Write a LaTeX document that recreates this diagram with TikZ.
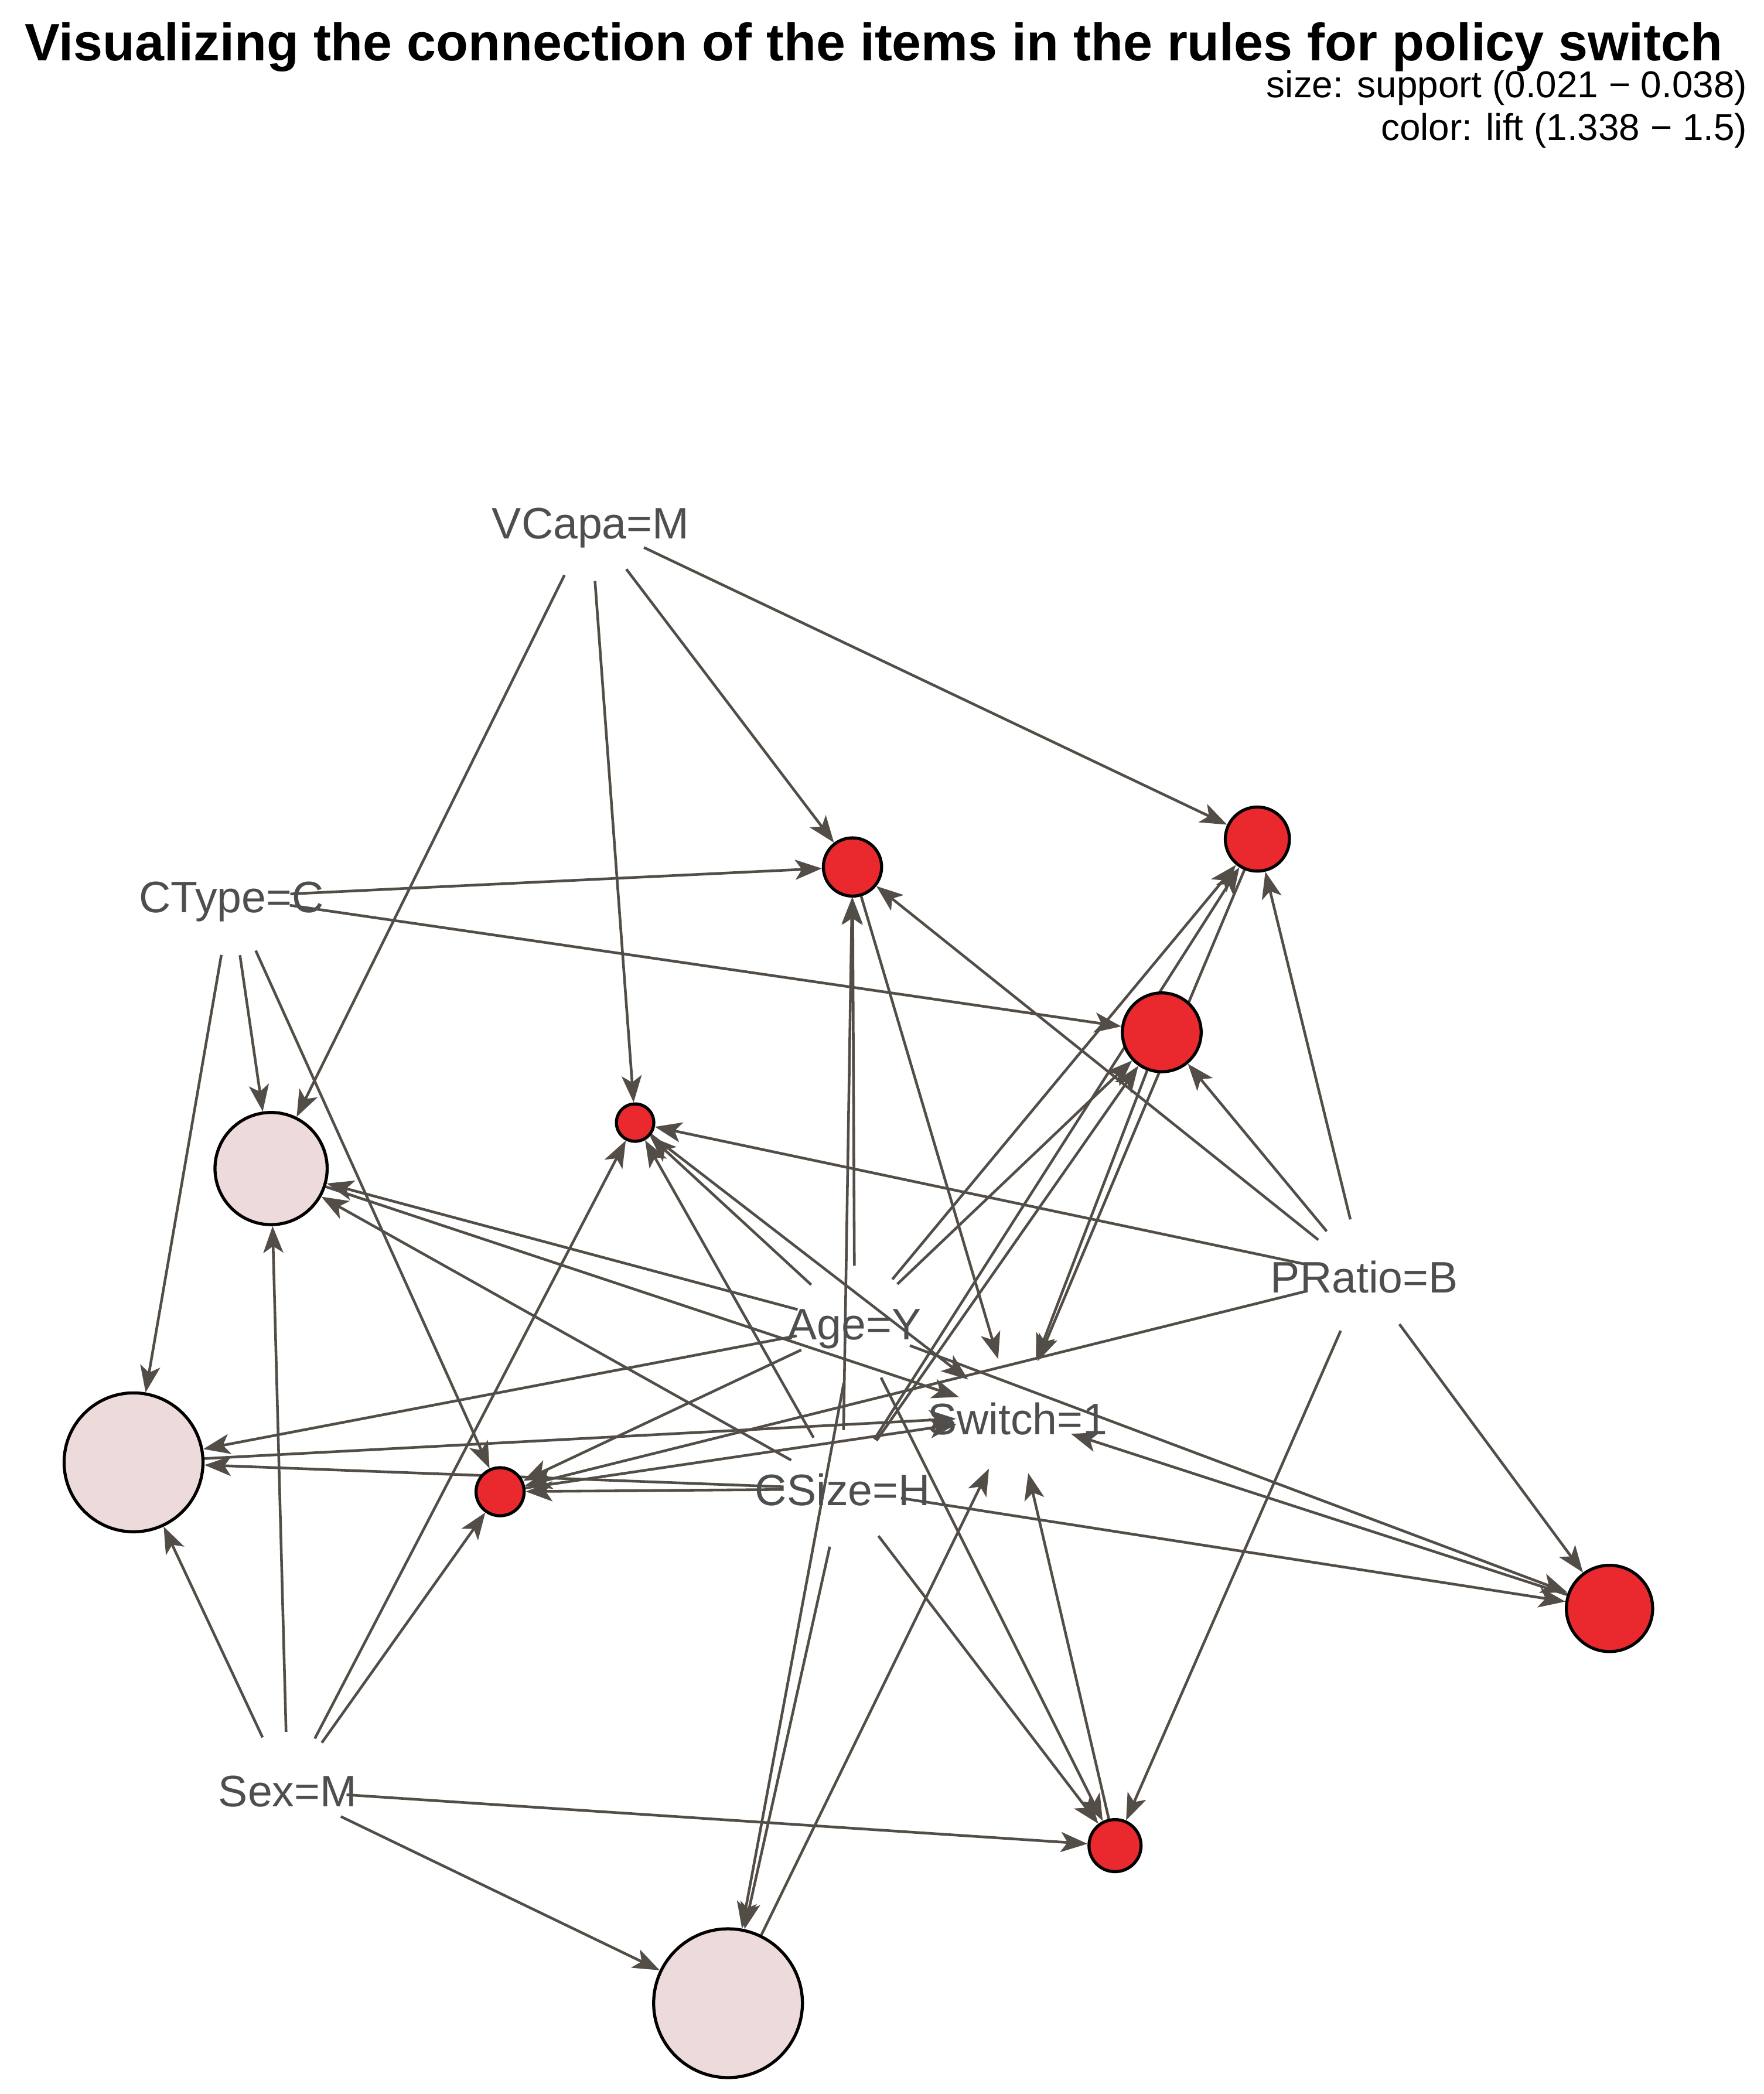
\documentclass[tikz,border=0pt]{standalone}
\usepackage{fontspec}
\setmainfont{Liberation Sans}
\usetikzlibrary{arrows.meta}
\pgfdeclarelayer{back}
\pgfdeclarelayer{bg}
\pgfsetlayers{back,bg,main}
\definecolor{edgec}{RGB}{83,77,71}
\definecolor{lblc}{RGB}{77,79,79}
\definecolor{rulered}{RGB}{234,41,46}
\definecolor{rulepink}{RGB}{237,219,219}
\begin{document}
\begin{tikzpicture}[x=1pt,y=-1pt,
  itemv/.style={circle,minimum size=88pt,inner sep=0pt,draw=none},
  itemlbl/.style={anchor=base,inner sep=0pt,text=lblc,font=\fontsize{33}{38}\selectfont},
  rulev/.style={circle,inner sep=0pt,draw=black,line width=2.3pt,minimum size=#1},
  redrule/.style={rulev=#1,fill=rulered},
  pinkrule/.style={rulev=#1,fill=rulepink},
  edgeln/.style={draw=edgec,line width=2pt,-{Stealth[length=20pt,width=15pt,inset=5pt]}},
]
\begin{pgfonlayer}{back}
\fill[white] (0,0) rectangle (1321,1568);
\end{pgfonlayer}
\useasboundingbox (0,0) rectangle (1321,1568);

% title and legend
\node[anchor=base west,inner sep=0pt,font=\fontsize{39.4}{44}\selectfont\bfseries] (title) at (18.5,45.3) {Visualizing the connection of the items in the rules for policy switch};
\node[anchor=base east,inner sep=0pt,font=\fontsize{28}{32}\selectfont] (leg1) at (1308.5,73) {size: support (0.021 − 0.038)};
\node[anchor=base east,inner sep=0pt,font=\fontsize{28}{32}\selectfont] (leg2) at (1308.5,105) {color: lift (1.338 − 1.5)};

% item vertices (invisible)
\node[itemv] (vcapa) at (442.3,391) {};
\node[itemv] (ctype) at (173.3,671.5) {};
\node[itemv] (age) at (640,992) {};
\node[itemv] (pratio) at (1021.7,956) {};
\node[itemv] (switch) at (760,1060) {};
\node[itemv] (csize) at (631,1115) {};
\node[itemv] (sex) at (215.4,1341) {};

% rule vertices
\node[redrule=43.6pt] (r1) at (638.4,649.2) {};
\node[redrule=48pt] (r2) at (941.6,628.3) {};
\node[redrule=59pt] (r3) at (870,773) {};
\node[redrule=28pt] (r4) at (475.6,840.6) {};
\node[pinkrule=84pt] (r5) at (203,875) {};
\node[pinkrule=104pt] (r6) at (100,1095) {};
\node[redrule=36pt] (r7) at (374.5,1117) {};
\node[redrule=64.6pt] (r8) at (1205.3,1204.4) {};
\node[redrule=39pt] (r9) at (835,1382) {};
\node[pinkrule=111.4pt] (r10) at (545.2,1500) {};

\begin{pgfonlayer}{bg}
\foreach \a/\b in {vcapa/r1,vcapa/r2,vcapa/r4,vcapa/r5,
  ctype/r1,ctype/r3,ctype/r5,ctype/r6,ctype/r7,
  age/r1,age/r2,age/r3,age/r4,age/r5,age/r6,age/r7,age/r8,age/r9,age/r10,
  pratio/r1,pratio/r2,pratio/r3,pratio/r4,pratio/r7,pratio/r8,pratio/r9,
  csize/r1,csize/r2,csize/r3,csize/r4,csize/r5,csize/r6,csize/r7,csize/r8,csize/r9,csize/r10,
  sex/r4,sex/r5,sex/r6,sex/r7,sex/r9,sex/r10,
  r1/switch,r2/switch,r3/switch,r4/switch,r5/switch,r6/switch,r7/switch,r8/switch,r9/switch,r10/switch}
  \draw[edgeln] (\a) -- (\b);
\end{pgfonlayer}

% item labels
\node[itemlbl] (vcapal) at (442.3,403.2) {VCapa=M};
\node[itemlbl] (ctypel) at (173.3,683.1) {CType=C};
\node[itemlbl] (agel) at (640,1003.3) {Age=Y};
\node[itemlbl] (pratiol) at (1021.7,968) {PRatio=B};
\node[itemlbl] (switchl) at (762,1074) {Switch=1};
\node[itemlbl] (csizel) at (631,1127.5) {CSize=H};
\node[itemlbl] (sexl) at (215.4,1352.8) {Sex=M};
\end{tikzpicture}
\end{document}
